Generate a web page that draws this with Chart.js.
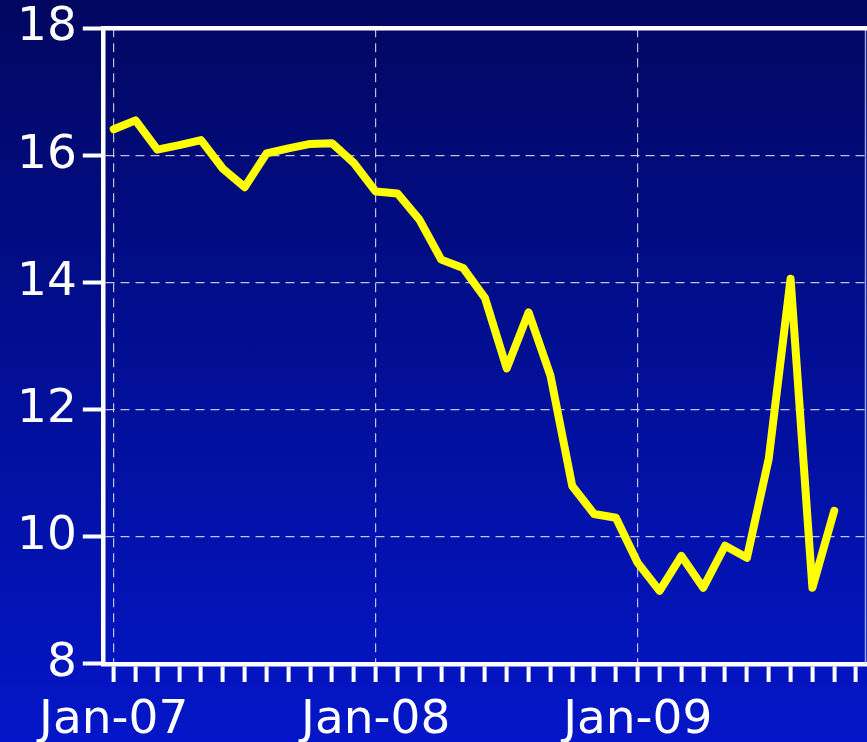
<!DOCTYPE html>
<html>
<head>
<meta charset="utf-8">
<script src="https://cdn.jsdelivr.net/npm/chart.js@4"></script>
<style>
  html, body { margin: 0; padding: 0; }
  body { width: 867px; height: 742px; background: linear-gradient(to bottom, #010760 0%, #020f96 50%, #0416c8 100%); }
  #wrap { position: relative; width: 867px; height: 742px; }
</style>
</head>
<body>
<div id="wrap"><canvas id="c" width="867" height="742"></canvas></div>
<script>
const categories = [
  'Jan-07','Feb-07','Mar-07','Apr-07','May-07','Jun-07','Jul-07','Aug-07','Sep-07','Oct-07','Nov-07','Dec-07',
  'Jan-08','Feb-08','Mar-08','Apr-08','May-08','Jun-08','Jul-08','Aug-08','Sep-08','Oct-08','Nov-08','Dec-08',
  'Jan-09','Feb-09','Mar-09','Apr-09','May-09','Jun-09','Jul-09','Aug-09','Sep-09','Oct-09','Nov-09'
];
const seriesValues = [
  16.41, 16.55, 16.09, 16.16, 16.24, 15.79, 15.50, 16.03, 16.11, 16.18, 16.19, 15.88,
  15.43, 15.40, 14.99, 14.36, 14.23, 13.76, 12.65, 13.53, 12.54, 10.80, 10.36, 10.30,
  9.59, 9.15, 9.70, 9.20, 9.86, 9.67, 11.23, 14.06, 9.20, 10.41, null
];
const yTicks = [8, 10, 12, 14, 16, 18];
const labelEvery = 12;

const FONT = "'DejaVu Sans', sans-serif";

const framePlugin = {
  id: 'frame',
  afterDraw(chart) {
    const { ctx, chartArea } = chart;
    ctx.save();
    ctx.strokeStyle = 'rgba(200,210,255,0.75)';
    ctx.lineWidth = 1.5;
    ctx.beginPath();
    ctx.moveTo(chartArea.right - 1.5, chartArea.top);
    ctx.lineTo(chartArea.right - 1.5, chartArea.bottom);
    ctx.stroke();
    ctx.strokeStyle = '#ffffff';
    ctx.lineWidth = 4.5;
    ctx.beginPath();
    ctx.moveTo(chartArea.left, chartArea.top);
    ctx.lineTo(chart.width, chartArea.top);
    ctx.stroke();
    ctx.restore();
  }
};

new Chart(document.getElementById('c'), {
  type: 'line',
  data: {
    labels: categories,
    datasets: [{
      data: seriesValues,
      borderColor: '#ffff00',
      borderWidth: 8,
      pointRadius: 0,
      tension: 0,
      borderJoinStyle: 'round',
      borderCapStyle: 'round',
      spanGaps: false
    }]
  },
  options: {
    responsive: false,
    animation: false,
    events: [],
    layout: { padding: { left: 17, right: 0, top: 0, bottom: -18 } },
    plugins: { legend: { display: false }, tooltip: { enabled: false } },
    scales: {
      x: {
        offset: true,
        grid: {
          offset: false,
          color: (c) => (c.index % labelEvery === 0 ? 'rgba(255,255,255,0.75)' : 'rgba(0,0,0,0)'),
          lineWidth: 1.2,
          tickColor: '#ffffff',
          tickWidth: 4,
          tickLength: 18,
          tickBorderDash: []
        },
        border: { display: true, color: '#ffffff', width: 4.5, dash: [9, 6] },
        ticks: {
          autoSkip: false,
          maxRotation: 0,
          color: '#ffffff',
          padding: 0,
          font: { family: FONT, size: 47, lineHeight: 1.66 },
          callback: function (v, i) { return i % labelEvery === 0 ? categories[i] : ''; }
        }
      },
      y: {
        min: 8,
        max: 18,
        afterBuildTicks: (s) => { s.ticks = yTicks.map(v => ({ value: v })); },
        grid: {
          color: 'rgba(255,255,255,0.75)',
          lineWidth: 1.2,
          tickColor: '#ffffff',
          tickWidth: 4,
          tickLength: 26,
          tickBorderDash: [0, 6, 40, 0]
        },
        border: { display: true, color: '#ffffff', width: 4.5, dash: [9, 6] },
        ticks: {
          color: '#ffffff',
          padding: 0,
          font: { family: FONT, size: 47 }
        }
      }
    }
  },
  plugins: [framePlugin]
});
</script>
</body>
</html>
